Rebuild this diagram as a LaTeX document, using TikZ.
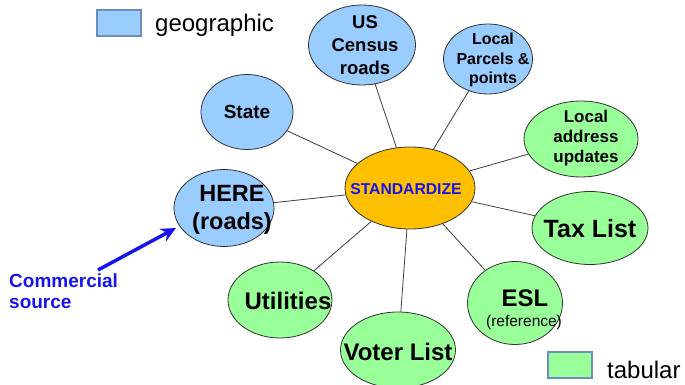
\documentclass[tikz,border=0pt]{standalone}
\usepackage{fontspec}
\setmainfont{Liberation Sans}
\usetikzlibrary{shapes.geometric,arrows.meta}
\definecolor{geo}{RGB}{153,204,255}
\definecolor{tab}{RGB}{153,255,153}
\definecolor{ctr}{RGB}{255,192,0}
\definecolor{legbd}{RGB}{110,140,190}
\definecolor{edgec}{RGB}{60,60,60}
\definecolor{cblue}{RGB}{20,20,235}
\tikzset{
  bub/.style 2 args={ellipse, draw=black!80, line width=0.8pt, inner sep=0pt, minimum width=#1, minimum height=#2},
  geob/.style 2 args={bub={#1}{#2}, fill=geo},
  tabb/.style 2 args={bub={#1}{#2}, fill=tab},
  txt/.style={align=center, inner sep=0pt, font=\bfseries},
  link/.style={draw=edgec, line width=0.8pt},
  legbox/.style={draw=legbd, line width=1.5pt, minimum width=44pt, minimum height=26pt, inner sep=0pt},
}
\begin{document}
\begin{tikzpicture}[x=1pt,y=-1pt]
\useasboundingbox (0,0) rectangle (685,385);
% center
\node[bub={130pt}{82pt}, fill=ctr] (std) at (410,188) {};
\node[txt, text=cblue, font=\fontsize{15.7}{18}\selectfont\bfseries] (stdt) at (406,189) {STANDARDIZE};
% geographic
\node[geob={92pt}{75pt}] (state) at (247,112) {};
\node[txt, font=\fontsize{19}{22}\selectfont\bfseries] (statet) at (247,112) {State};
\node[geob={107pt}{80pt}] (census) at (362,45) {};
\node[txt, font=\fontsize{18.5}{23}\selectfont\bfseries] (censust) at (365,45) {US\\Census\\roads};
\node[geob={89pt}{70pt}] (parcels) at (488,59) {};
\node[txt, font=\fontsize{16}{19.5}\selectfont\bfseries] (parcelst) at (493,60) {Local\\Parcels \&\\points};
\node[geob={100pt}{77pt}] (here) at (224,208) {};
\node[txt, font=\fontsize{23.5}{28}\selectfont\bfseries] (heret) at (232,210) {HERE\\(roads)};
% tabular
\node[tabb={114pt}{76pt}] (addr) at (581,139) {};
\node[txt, font=\fontsize{17}{20}\selectfont\bfseries] (addrt) at (586,138) {Local\\address\\updates};
\node[tabb={116pt}{73pt}] (tax) at (590,228) {};
\node[txt, font=\fontsize{25}{28}\selectfont\bfseries] (taxt) at (590,229) {Tax List};
\node[tabb={104pt}{76pt}] (util) at (280,300) {};
\node[txt, font=\fontsize{24}{28}\selectfont\bfseries] (utilt) at (288,301) {Utilities};
\node[tabb={115pt}{76pt}] (voter) at (398,350) {};
\node[txt, font=\fontsize{24}{28}\selectfont\bfseries] (votert) at (398,352) {Voter List};
\node[tabb={95pt}{83pt}] (esl) at (515,303) {};
\node[txt, font=\fontsize{24}{28}\selectfont\bfseries] (eslt) at (525,298) {ESL};
\node[txt, font=\fontsize{15.5}{18}\selectfont\mdseries] (eslr) at (524,322) {(reference)};
% links
\foreach \n in {state,census,parcels,here,addr,tax,util,voter,esl}
  \draw[link] (std) -- (\n);
% legend
\node[legbox, fill=geo] (lg1) at (119,23) {};
\node[anchor=west, font=\fontsize{24}{28}\selectfont, inner sep=0pt] (lg1t) at (155,25) {geographic};
\node[legbox, fill=tab] (lg2) at (570,365) {};
\node[anchor=west, font=\fontsize{24}{28}\selectfont, inner sep=0pt] (lg2t) at (607,370) {tabular};
% commercial source
\node[anchor=west, text=cblue, font=\fontsize{19}{22}\selectfont\bfseries, inner sep=0pt] (com1) at (9,281) {Commercial};
\node[anchor=west, text=cblue, font=\fontsize{19}{22}\selectfont\bfseries, inner sep=0pt] (com2) at (9,303) {source};
\coordinate (arrS) at (98,270);
\coordinate (arrE) at (176,228);
\draw[cblue, line width=3.5pt, -{Stealth[length=15pt,width=14pt]}] (arrS) -- (arrE);
\end{tikzpicture}
\end{document}
